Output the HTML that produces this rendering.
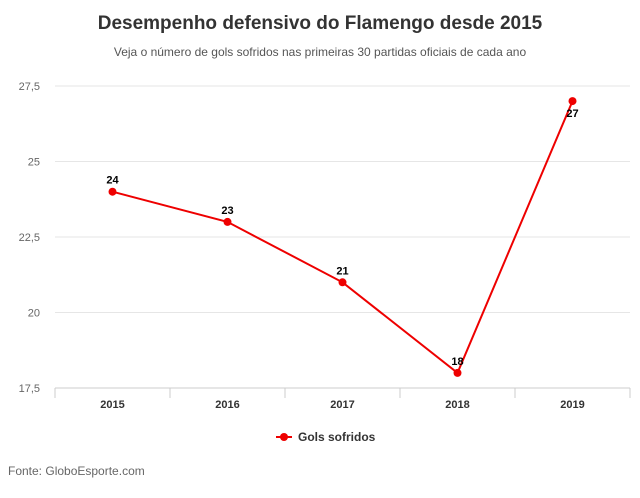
<!DOCTYPE html>
<html><head><meta charset="utf-8"><style>
body{margin:0;background:#fff;font-family:"Liberation Sans",sans-serif}
</style></head><body>
<svg width="640" height="493" xmlns="http://www.w3.org/2000/svg">
<text x="320" y="29" text-anchor="middle" font-size="19" font-weight="bold" fill="#333">Desempenho defensivo do Flamengo desde 2015</text>
<text x="320" y="56" text-anchor="middle" font-size="12" fill="#555">Veja o número de gols sofridos nas primeiras 30 partidas oficiais de cada ano</text>
<g id="grid"></g><g id="xaxis"></g><g id="series"></g>
<g>
<line x1="276" y1="437" x2="292" y2="437" stroke="#e00" stroke-width="2"/>
<circle cx="284" cy="437" r="4" fill="#e00"/>
<text x="298" y="441" font-size="12" font-weight="bold" fill="#333">Gols sofridos</text>
</g>
<text x="8" y="475" font-size="12" fill="#666">Fonte: GloboEsporte.com</text>
</svg>
<script>
const categories=["2015","2016","2017","2018","2019"];
const values=[24,23,21,18,27];
const yTicks=[17.5,20,22.5,25,27.5];
const yTickLabels=["17,5","20","22,5","25","27,5"];
const L=55,R=630,T=86,B=388,yMin=17.5,yMax=27.5;
const bw=(R-L)/categories.length;
const x=i=>L+bw*(i+0.5);
const y=v=>B-(v-yMin)/(yMax-yMin)*(B-T);
const NS="http://www.w3.org/2000/svg";
function mk(tag,attrs,parent,txt){const e=document.createElementNS(NS,tag);for(const k in attrs)e.setAttribute(k,attrs[k]);if(txt!=null)e.textContent=txt;parent.appendChild(e);return e;}
const grid=document.getElementById('grid');
yTicks.forEach((t,i)=>{
 const g=mk('line',{x1:L,x2:R,y1:y(t),y2:y(t),stroke:i==0?'#ccc':'#e6e6e6','stroke-width':1},grid);
 
 
 const lb=mk('text',{x:40,y:y(t)+4,'text-anchor':'end','font-size':11,fill:'#666'},grid,yTickLabels[i]);
 
 
});
const xa=document.getElementById('xaxis');
for(let i=0;i<=categories.length;i++){
 const tk=mk('line',{x1:L+bw*i,x2:L+bw*i,y1:B,y2:B+10,stroke:'#ccc'},xa);
 
 
}
categories.forEach((c,i)=>{
 const t=mk('text',{x:x(i),y:408,'text-anchor':'middle','font-size':11,'font-weight':'bold',fill:'#333'},xa,c);
 
 
});
const s=document.getElementById('series');
const line=mk('polyline',{points:values.map((v,i)=>x(i)+','+y(v)).join(' '),fill:'none',stroke:'#e00','stroke-width':2},s);


values.forEach((v,i)=>{
 const p=mk('circle',{cx:x(i),cy:y(v),r:4,fill:'#e00'},s);
 
 
 const below=i==values.length-1;
 const lb=mk('text',{x:x(i),y:below?y(v)+16:y(v)-8,'text-anchor':'middle','font-size':11,'font-weight':'bold',fill:'#000'},s,String(v));
 
 
});
</script>
</body></html>
